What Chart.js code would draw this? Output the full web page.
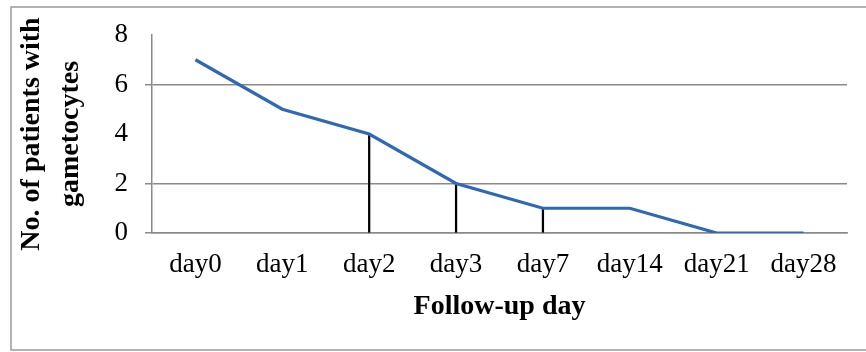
<!DOCTYPE html>
<html>
<head>
<meta charset="utf-8">
<script src="https://cdn.jsdelivr.net/npm/chart.js@4"></script>
<style>
html,body{margin:0;padding:0;background:#fff;}
#wrap{position:relative;width:866px;height:352px;}
</style>
</head>
<body>
<div id="wrap"><canvas id="c" width="866" height="352"></canvas></div>
<script>
const categories = ['day0','day1','day2','day3','day7','day14','day21','day28'];
const patientsWithGametocytes = [7, 5, 4, 2, 1, 1, 0, 0];
const dropLineValues = [null, null, 4, 2, 1, null, null, null];
const yTicks = [0, 2, 4, 6, 8];
const yTitle = ['No. of patients with', 'gametocytes'];
const xTitle = 'Follow-up day';

const frame = {
  id: 'frame',
  beforeDraw(chart) {
    const ctx = chart.ctx;
    ctx.save();
    ctx.fillStyle = '#fff';
    ctx.fillRect(0, 0, chart.width, chart.height);
    ctx.strokeStyle = '#9a9a9a';
    ctx.lineWidth = 1.5;
    ctx.strokeRect(11, 7, 870, 343);
    ctx.restore();
  }
};

const serif = '"Liberation Serif", "Times New Roman", serif';
const gridCol = '#8a8a8a';

new Chart(document.getElementById('c'), {
  type: 'line',
  data: {
    labels: categories,
    datasets: [
      {
        type: 'line',
        data: patientsWithGametocytes,
        borderColor: '#2f69b6',
        borderWidth: 3.2,
        pointRadius: 0,
        tension: 0,
        fill: false,
        order: 0
      },
      {
        type: 'bar',
        data: dropLineValues,
        backgroundColor: '#000',
        barThickness: 1.6,
        order: 1
      }
    ]
  },
  options: {
    responsive: false,
    animation: false,
    devicePixelRatio: 1,
    layout: { padding: { left: 0, right: 19, top: 35, bottom: 0 } },
    plugins: { legend: { display: false }, tooltip: { enabled: false } },
    scales: {
      x: {
        offset: true,
        grid: { display: false, drawTicks: false },
        border: { display: true, color: gridCol, width: 1.5 },
        ticks: { color: '#000', font: { family: serif, size: 27 }, padding: 16, maxRotation: 0, autoSkip: false },
        title: { display: true, text: xTitle, color: '#000', font: { family: serif, size: 28, weight: 'bold' }, padding: { top: 0, bottom: 28 } },
        afterFit(scale) { scale.height = 352 - 233; }
      },
      y: {
        min: 0, max: 8,
        afterBuildTicks(scale) { scale.ticks = yTicks.map(v => ({ value: v })); },
        grid: {
          color: ctx => (ctx.tick && (ctx.tick.value === 4 || ctx.tick.value === 8)) ? 'rgba(0,0,0,0)' : gridCol,
          lineWidth: 1.5,
          tickLength: 7
        },
        border: { display: true, color: gridCol, width: 1.5 },
        ticks: { color: '#000', font: { family: serif, size: 27 }, padding: 17 },
        title: { display: true, text: yTitle, color: '#000', font: { family: serif, size: 28, weight: 'bold', lineHeight: 1.4 }, padding: { top: 12, bottom: 0 } },
        afterFit(scale) { scale.width = 152; }
      }
    }
  },
  plugins: [frame]
});
</script>
</body>
</html>
